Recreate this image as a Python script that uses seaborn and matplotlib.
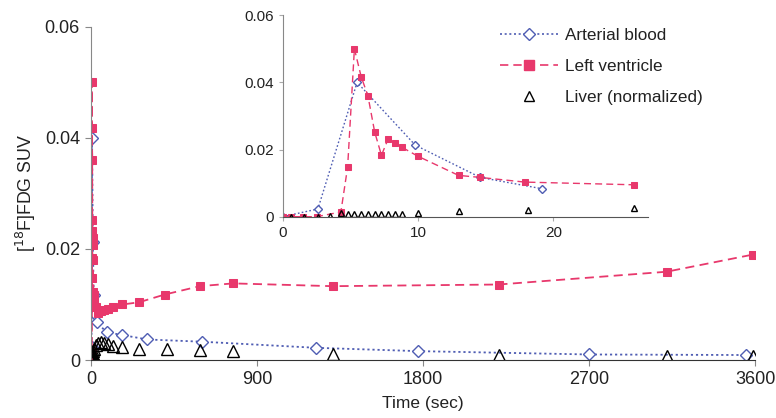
import numpy as np
import matplotlib
matplotlib.use("Agg")
import matplotlib.pyplot as plt
import seaborn as sns
from matplotlib.lines import Line2D

# time (sec) and SUV values
t_blood = [0, 2.6, 5.5, 9.8, 14.6, 19.2, 30, 85, 170, 305, 600, 1220, 1775, 2700, 3550]
blood = [0, 0.0023, 0.040, 0.0213, 0.0117, 0.0083, 0.0068, 0.0050, 0.0045, 0.0037,
         0.0033, 0.0022, 0.0016, 0.0010, 0.0009]

t_lv = [0, 0.6, 1.5, 2.5, 4.3, 4.8, 5.3, 5.8, 6.3, 6.8, 7.3, 7.8, 8.3, 8.8, 10.0,
        13.0, 14.6, 17.9, 26.0, 40, 55, 70, 90, 120, 170, 260, 400, 590, 770,
        1310, 2210, 3120, 3590]
lv = [0, 0, 0, 0, 0.0014, 0.0148, 0.050, 0.0417, 0.036, 0.0252, 0.0183, 0.0232,
      0.022, 0.0207, 0.018, 0.0123, 0.0117, 0.0103, 0.0095, 0.0085, 0.0088,
      0.0090, 0.0092, 0.0095, 0.0100, 0.0104, 0.0118, 0.0133, 0.0138, 0.0133,
      0.0136, 0.0159, 0.0190]

t_liver = [0.6, 1.6, 2.6, 3.5, 4.3, 4.8, 5.3, 5.8, 6.3, 6.8, 7.3, 7.8, 8.3, 8.8,
           10.0, 13.0, 18.1, 26.0, 40, 55, 70, 90, 120, 170, 260, 410, 590, 770,
           1310, 2210, 3120, 3590]
liver = [0, 0, 0, 0.0002, 0.001, 0.0008, 0.0007, 0.0007, 0.0007, 0.0007, 0.0007,
         0.0007, 0.0009, 0.0009, 0.0011, 0.0017, 0.002, 0.0027, 0.0030, 0.0032,
         0.0031, 0.0029, 0.0026, 0.0023, 0.0020, 0.0019, 0.0018, 0.0016, 0.0011,
         0.0009, 0.0007, 0.0007]

pink = "#e8386c"
blue = "#4f5db3"
txt = "#222222"

sns.set_style("white")
plt.rcParams["font.family"] = ["Liberation Sans", "DejaVu Sans"]
plt.rcParams["font.size"] = 12

fig = plt.figure(figsize=(7.76, 4.18), dpi=100)
ax = fig.add_axes([0.1173, 0.1387, 0.8557, 0.797])


def draw(a, tmax, ms_sq, ms_d, ms_t, lw):
    tb = [t for t in t_blood if t <= tmax]
    tl = [t for t in t_lv if t <= tmax]
    tr = [t for t in t_liver if t <= tmax]
    sns.lineplot(x=tb, y=blood[:len(tb)], ax=a, sort=False, estimator=None,
                 color=blue, linestyle=(0, (1.2, 1.6)), lw=lw, marker="D",
                 markersize=ms_d, markerfacecolor="white", markeredgecolor=blue,
                 markeredgewidth=1.0)
    sns.lineplot(x=tl, y=lv[:len(tl)], ax=a, sort=False, estimator=None,
                 color=pink, linestyle=(0, (5, 3)), lw=lw, marker="s",
                 markersize=ms_sq, markeredgecolor=pink)
    a.plot(tr, liver[:len(tr)], linestyle="none", marker="^", markersize=ms_t,
           markerfacecolor="none", markeredgecolor="black", markeredgewidth=1.0)


draw(ax, 4000, 6, 6, 8, 1.3)
ax.set_xlim(0, 3600)
ax.set_ylim(0, 0.06)
ax.set_xticks([0, 900, 1800, 2700, 3600])
ax.set_yticks([0, 0.02, 0.04, 0.06])
ax.set_yticklabels(["0", "0.02", "0.04", "0.06"])
ax.set_xlabel("Time (sec)", color=txt, fontsize=12.5)
ax.set_ylabel("[$^{18}$F]FDG SUV", color=txt, fontsize=12.8)
ax.xaxis.set_label_coords(0.5, -0.108)
ax.yaxis.set_label_coords(-0.08, 0.5)
for s in ["top", "right"]:
    ax.spines[s].set_visible(False)
ax.spines["left"].set_color("#888888")
ax.spines["bottom"].set_color("#333333")
ax.tick_params(axis="both", colors=txt, labelsize=13, length=4, direction="out",
               color="#888888", left=True, bottom=True, pad=4)

ins = fig.add_axes([0.3643, 0.4816, 0.4707, 0.482])
ins.patch.set_alpha(0)
draw(ins, 27, 4.5, 4, 4.5, 1.0)
ins.set_xlim(0, 27)
ins.set_ylim(0, 0.06)
ins.set_xticks([0, 10, 20])
ins.set_yticks([0, 0.02, 0.04, 0.06])
ins.set_yticklabels(["0", "0.02", "0.04", "0.06"])
for s in ["top", "right"]:
    ins.spines[s].set_visible(False)
ins.spines["left"].set_color("#888888")
ins.spines["bottom"].set_color("#555555")
ins.tick_params(axis="both", colors=txt, labelsize=11, length=3, direction="out",
                color="#aaaaaa", left=True, bottom=True)

handles = [
    Line2D([], [], color=blue, linestyle=(0, (1.2, 1.6)), lw=1.2, marker="D",
           markersize=6, markerfacecolor="white", markeredgecolor=blue),
    Line2D([], [], color=pink, linestyle=(0, (5, 3)), lw=1.2, marker="s",
           markersize=7, markeredgecolor=pink),
    Line2D([], [], linestyle="none", marker="^", markersize=7,
           markerfacecolor="none", markeredgecolor="black"),
]
labels = ["Arterial blood", "Left ventricle", "Liver (normalized)"]
fig.legend(handles, labels, loc="upper left", bbox_to_anchor=(0.624, 0.97),
           frameon=False, handlelength=3.4, handletextpad=0.45,
           labelspacing=0.95, fontsize=12.3, labelcolor=txt)

fig.savefig("out.png", dpi=100)
